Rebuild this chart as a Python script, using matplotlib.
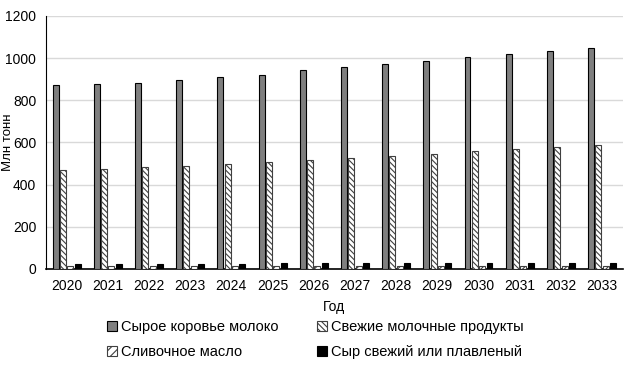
import matplotlib.pyplot as plt
import numpy as np

plt.rcParams['font.family'] = ['Liberation Sans', 'DejaVu Sans']
plt.rcParams['hatch.linewidth'] = 0.8

years = ['2020', '2021', '2022', '2023', '2024', '2025', '2026',
         '2027', '2028', '2029', '2030', '2031', '2032', '2033']
raw_milk = [872, 875, 880, 895, 910, 920, 943, 958, 972, 985, 1004, 1020, 1035, 1050]
fresh_dairy = [470, 475, 482, 490, 500, 508, 518, 528, 537, 547, 559, 568, 578, 586]
butter = [12, 12, 12, 13, 13, 13, 13, 14, 14, 14, 14, 15, 15, 15]
cheese = [25, 25, 26, 26, 26, 27, 27, 27, 28, 28, 28, 29, 29, 29]

labels = ['Сырое коровье молоко', 'Свежие молочные продукты',
          'Сливочное масло', 'Сыр свежий или плавленый']

fig = plt.figure(figsize=(6.38, 3.70), dpi=100)
ax = fig.add_axes([0.072, 0.273, 0.904, 0.684])

x = np.arange(len(years))
w = 0.145
step = 0.178
b1 = ax.bar(x - 1.5*step, raw_milk, w, color='#7f7f7f', edgecolor='black', lw=0.8, zorder=3)
b2 = ax.bar(x - 0.5*step, fresh_dairy, w, color='white', edgecolor='#404040', hatch='\\\\\\\\\\\\', lw=0.8, zorder=3)
b3 = ax.bar(x + 0.5*step, butter, w, color='white', edgecolor='#404040', hatch='////', lw=0.8, zorder=3)
b4 = ax.bar(x + 1.5*step, cheese, w, color='black', edgecolor='black', lw=0.8, zorder=3)

ax.set_xlim(-0.5, len(years) - 0.5)
ax.set_ylim(0, 1200)
ax.set_yticks(range(0, 1201, 200))
ax.set_xticks(x)
ax.set_xticklabels(years)
ax.tick_params(length=0, labelsize=10, pad=7)
ax.yaxis.grid(True, color='#d9d9d9', lw=1)
ax.set_axisbelow(True)
for s in ['top', 'right']:
    ax.spines[s].set_visible(False)
ax.spines['left'].set_color('black')
ax.spines['bottom'].set_color('black')
ax.spines['bottom'].set_linewidth(1.2)

ax.set_xlabel('Год', fontsize=10, labelpad=5)
ax.set_ylabel('Млн тонн', fontsize=9.5)
ax.yaxis.set_label_coords(-0.055, 0.5)

# column-major fill -> reorder so rows read like the original
fig.legend([b1, b3, b2, b4], [labels[0], labels[2], labels[1], labels[3]],
           loc='upper left', bbox_to_anchor=(0.147, 0.17), ncol=2, frameon=False,
           fontsize=10.5, handlelength=0.7, handleheight=0.7, handletextpad=0.3,
           columnspacing=2.6, labelspacing=0.75)

plt.savefig('out.png', dpi=100)
